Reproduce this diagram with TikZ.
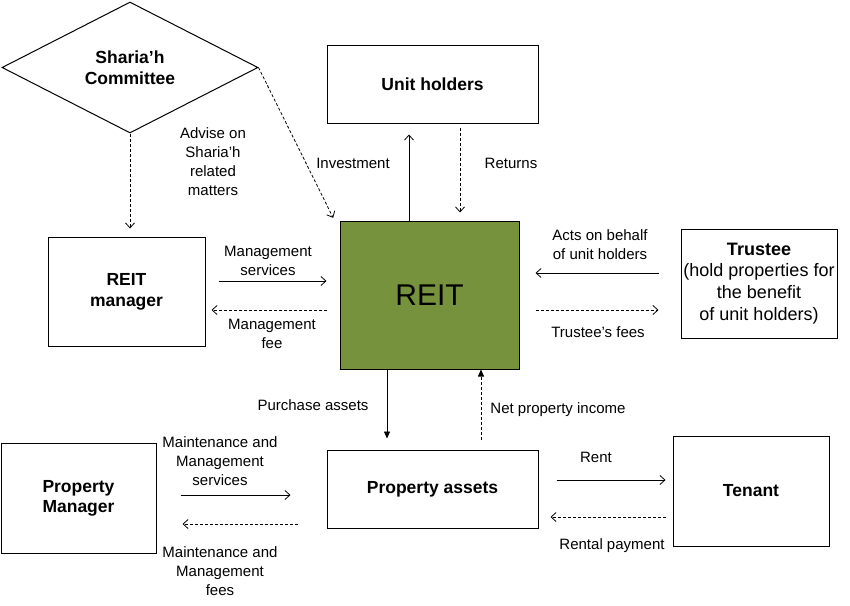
\documentclass[tikz,border=0pt]{standalone}
\usepackage{fontspec}
\setmainfont{Liberation Sans}
\usetikzlibrary{arrows.meta,shapes.geometric}
\definecolor{reitgreen}{HTML}{76923C}
\begin{document}
\begin{tikzpicture}[x=1pt,y=-1pt,
  box/.style={draw=black,line width=1pt,inner sep=0pt,align=center,
    font=\fontsize{17.5}{21}\selectfont\bfseries},
  lbl/.style={align=center,inner sep=0pt,font=\fontsize{15}{19}\selectfont},
  conn/.style={line width=0.8pt,-{Straight Barb[length=5pt,width=9pt]}},
  dconn/.style={conn,dash pattern=on 3pt off 2pt},
  fconn/.style={line width=0.8pt,-{Triangle[length=7pt,width=6pt]}},
  dfconn/.style={fconn,dash pattern=on 3pt off 2pt}]
\useasboundingbox[fill=white] (0,0) rectangle (850,605);
% nodes
\node[box,diamond,aspect=1.95,minimum width=256pt,minimum height=131pt] (sc) at (130,67.5) {Sharia’h\\Committee};
\node[box,minimum width=211pt,minimum height=78pt] (uh) at (432.5,84) {Unit holders};
\node[box,fill=reitgreen,minimum width=179pt,minimum height=148pt,font=\fontsize{30}{34}\selectfont] (reit) at (429.5,295) {REIT};
\node[box,minimum width=157pt,minimum height=109pt] (mgr) at (126.5,291.5) {REIT\\manager};
\node[box,minimum width=156pt,minimum height=109pt,font=\fontsize{18}{21.7}\selectfont] (tr) at (759,283.5) {\textbf{Trustee}\\(hold properties for\\the benefit\\of unit holders)};
\node[box,minimum width=155pt,minimum height=110pt,font=\fontsize{17.5}{20}\selectfont\bfseries] (pm) at (78.5,498) {Property\\Manager};
\node[box,minimum width=211pt,minimum height=78pt] (pa) at (432.5,489) {Property assets};
\node[box,minimum width=156pt,minimum height=110pt] (tn) at (751,491) {Tenant};
% connectors
\draw[conn,shorten >=11pt] (reit.north -| 409,0) -- (uh.south -| 409,0);
\draw[dconn,shorten <=4pt,shorten >=8pt] (uh.south -| 460,0) -- (reit.north -| 460,0);
\draw[dconn,shorten >=8pt] (sc.south) -- (mgr.north -| sc.south);
\draw[dconn,shorten >=3pt] (sc.east) -- ([xshift=-5pt]reit.north west);
\draw[conn,shorten <=13pt,shorten >=13pt] (mgr.east |- 0,281) -- (reit.west |- 0,281);
\draw[dconn,shorten <=13pt,shorten >=6pt] (reit.west |- 0,310) -- (mgr.east |- 0,310);
\draw[conn,shorten <=22pt,shorten >=16pt] (tr.west |- 0,273) -- (reit.east |- 0,273);
\draw[dconn,shorten <=16pt,shorten >=22pt] (reit.east |- 0,310) -- (tr.west |- 0,310);
\draw[fconn,shorten >=11pt] (reit.south -| 387,0) -- (pa.north -| 387,0);
\draw[dfconn,shorten <=10pt] (pa.north -| 481,0) -- (reit.south -| 481,0);
\draw[conn,shorten <=24pt,shorten >=36pt] (pm.east |- 0,495) -- (pa.west |- 0,495);
\draw[dconn,shorten <=29pt,shorten >=26pt] (pa.west |- 0,524) -- (pm.east |- 0,524);
\draw[conn,shorten <=18pt,shorten >=7pt] (pa.east |- 0,480) -- (tn.west |- 0,480);
\draw[dconn,shorten <=7pt,shorten >=12pt] (tn.west |- 0,517) -- (pa.east |- 0,517);
% labels
\node[lbl] (l1) at (213,161.5) {Advise on\\Sharia’h\\related\\matters};
\node[lbl] (l2) at (353,163) {Investment};
\node[lbl] (l3) at (511,163) {Returns};
\node[lbl] (l4) at (268,260.5) {Management\\services};
\node[lbl] (l5) at (272,333.5) {Management\\fee};
\node[lbl] (l6) at (600,245) {Acts on behalf\\of unit holders};
\node[lbl] (l7) at (598,332) {Trustee’s fees};
\node[lbl] (l8) at (313,405) {Purchase assets};
\node[lbl] (l9) at (558,410) {Net property income};
\node[lbl] (l10) at (220,461.5) {Maintenance and\\Management\\services};
\node[lbl] (l11) at (220,571) {Maintenance and\\Management\\fees};
\node[lbl] (l12) at (596,457) {Rent};
\node[lbl] (l13) at (612,546) {Rental payment};
\end{tikzpicture}
\end{document}
